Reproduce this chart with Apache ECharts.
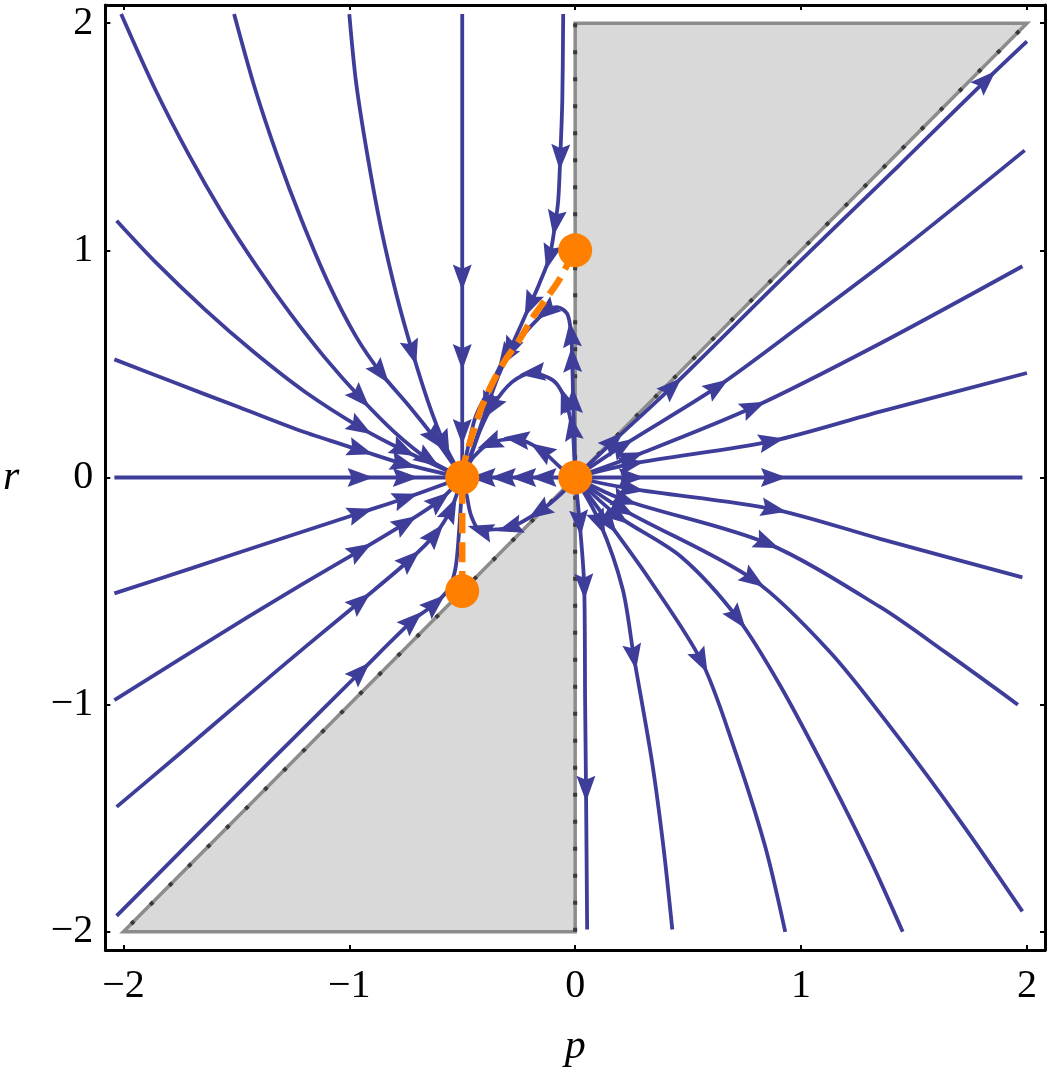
<!DOCTYPE html>
<html>
<head>
<meta charset="utf-8">
<title>Stream plot p-r</title>
<script src="https://cdn.jsdelivr.net/npm/echarts@6/dist/echarts.min.js"></script>
<style>
  html, body { margin: 0; padding: 0; background: #fff; }
  #chart { width: 1050px; height: 1075px; }
</style>
</head>
<body>
<div id="chart"></div>
<script>
  // tick labels
  const tickValues = [-2, -1, 0, 1, 2];

  // fixed points (orange dots)
  const fixedPoints = [[-0.5, 0], [0, 0], [0, 1], [-0.5, -0.5]];

  // orange dashed curve joining the fixed points
  const separatrix = [
    [-0.5, -0.5], [-0.5, 0], [-0.466, 0.154], [-0.418, 0.299], [-0.365, 0.418], [-0.308, 0.519],
    [-0.246, 0.607], [-0.189, 0.703], [-0.132, 0.782], [-0.079, 0.857], [-0.035, 0.936], [0, 1],
  ];

  // shaded (excluded) regions
  const upperShade = [[0, 0], [0, 2], [2, 2]];
  const lowerShade = [[-2, -2], [0, -2], [0, 0]];
  const upperEdge = [[0, 2], [0, 0], [2, 2]];
  const lowerEdge = [[0, -2], [0, 0], [-2, -2]];

  // streamlines flowing into (-0.5, 0)
  const lineA = [[-2.01, 2.04], [-1.86, 1.71], [-1.71, 1.42], [-1.56, 1.16], [-1.41, 0.93], [-1.26, 0.72], [-1.11, 0.53], [-0.95, 0.35], [-0.8, 0.2], [-0.65, 0.08], [-0.5, 0]];
  const lineB = [[-1.51, 2.04], [-1.42, 1.72], [-1.32, 1.42], [-1.21, 1.13], [-1.09, 0.85], [-0.97, 0.62], [-0.86, 0.46], [-0.74, 0.32], [-0.62, 0.17], [-0.5, 0]];
  const lineC = [[-1.0, 2.04], [-0.97, 1.74], [-0.92, 1.42], [-0.86, 1.1], [-0.79, 0.8], [-0.72, 0.55], [-0.65, 0.33], [-0.58, 0.15], [-0.5, 0]];
  const lineD = [[-0.5, 2.04], [-0.5, 0.88], [-0.5, 0.53], [-0.5, 0.2], [-0.5, 0]];
  const lineE = [[-2.03, 1.13], [-1.86, 0.95], [-1.64, 0.74], [-1.42, 0.55], [-1.2, 0.38], [-0.95, 0.22], [-0.76, 0.12], [-0.5, 0]];
  const lineF = [[-2.04, 0.52], [-1.78, 0.42], [-1.49, 0.31], [-1.2, 0.2], [-0.95, 0.12], [-0.76, 0.06], [-0.5, 0]];
  const lineG = [[-2.04, 0], [-0.95, 0], [-0.75, 0], [-0.5, 0]];
  const lineH = [[-2.04, -0.51], [-1.7, -0.4], [-1.35, -0.285], [-0.95, -0.155], [-0.75, -0.09], [-0.5, 0]];
  const lineI = [[-2.04, -0.98], [-1.75, -0.8], [-1.45, -0.615], [-1.2, -0.465], [-0.95, -0.32], [-0.75, -0.2], [-0.6, -0.1], [-0.5, 0]];
  const lineJ = [[-2.03, -1.45], [-1.75, -1.215], [-1.45, -0.96], [-1.2, -0.75], [-0.95, -0.545], [-0.73, -0.36], [-0.62, -0.25], [-0.55, -0.14], [-0.5, 0]];
  const lineK = [[-2.03, -1.93], [-1.7, -1.6], [-1.35, -1.25], [-0.95, -0.855], [-0.72, -0.63], [-0.62, -0.555], [-0.56, -0.49], [-0.53, -0.4], [-0.515, -0.25], [-0.505, -0.1], [-0.5, 0]];
  const lineTop = [[-0.053, 2.04], [-0.057, 1.66], [-0.066, 1.41], [-0.075, 1.22], [-0.088, 1.12], [-0.114, 0.97], [-0.16, 0.85], [-0.2, 0.76], [-0.24, 0.67], [-0.29, 0.56], [-0.343, 0.44], [-0.387, 0.32], [-0.431, 0.19], [-0.466, 0.09], [-0.5, 0]];

  // loops from (0, 0) to (-0.5, 0)
  const loopLow = [[0, 0], [-0.06, -0.07], [-0.16, -0.15], [-0.29, -0.22], [-0.42, -0.23], [-0.46, -0.17], [-0.48, -0.08], [-0.5, 0]];
  const midLine = [[0, 0], [-0.14, 0], [-0.23, 0], [-0.32, 0], [-0.41, 0], [-0.5, 0]];
  const loopUp1 = [[0, 0], [-0.06, 0.04], [-0.15, 0.12], [-0.26, 0.17], [-0.38, 0.15], [-0.45, 0.09], [-0.48, 0.04], [-0.5, 0]];
  const loopUp2 = [[0, 0], [-0.004, 0.1], [-0.013, 0.22], [-0.044, 0.34], [-0.08, 0.41], [-0.12, 0.44], [-0.19, 0.46], [-0.28, 0.42], [-0.37, 0.31], [-0.42, 0.21], [-0.46, 0.1], [-0.5, 0]];
  const loopUp3 = [[0, 0], [-0.004, 0.17], [-0.009, 0.34], [-0.013, 0.52], [-0.018, 0.63], [-0.035, 0.72], [-0.08, 0.75], [-0.13, 0.73], [-0.22, 0.64], [-0.31, 0.53], [-0.38, 0.39], [-0.44, 0.27], [-0.475, 0.13], [-0.5, 0]];

  // streamlines leaving (0, 0)
  const lineP1 = [[0, 0], [0.17, 0.16], [0.43, 0.4], [0.91, 0.87], [1.44, 1.38], [1.82, 1.75], [2.0, 1.92]];
  const lineP2 = [[0, 0], [0.21, 0.14], [0.63, 0.4], [1.0, 0.67], [1.44, 1.0], [1.99, 1.44]];
  const lineP3 = [[0, 0], [0.25, 0.09], [0.79, 0.31], [1.35, 0.59], [1.98, 0.93]];
  const lineP4 = [[0, 0], [0.25, 0.06], [0.87, 0.16], [1.35, 0.29], [2.0, 0.46]];
  const lineP5 = [[0, 0], [0.25, 0], [0.88, 0], [1.98, 0]];
  const lineQ1 = [[0, 0], [0.25, -0.05], [0.88, -0.14], [1.35, -0.27], [1.98, -0.44]];
  const lineQ2 = [[0, 0], [0.22, -0.1], [0.85, -0.29], [1.35, -0.57], [1.64, -0.77], [1.96, -1.0]];
  const lineQ3 = [[0, 0], [0.21, -0.14], [0.79, -0.45], [1.13, -0.77], [1.42, -1.13], [1.71, -1.52], [1.98, -1.91]];
  const lineQ4 = [[0, 0], [0.19, -0.17], [0.47, -0.35], [0.72, -0.62], [0.91, -0.92], [1.13, -1.33], [1.31, -1.69], [1.45, -2.0]];
  const lineQ5 = [[0, 0], [0.15, -0.2], [0.33, -0.45], [0.56, -0.81], [0.7, -1.18], [0.84, -1.62], [0.93, -2.0]];
  const lineQ6 = [[0, 0], [0.11, -0.2], [0.21, -0.49], [0.26, -0.79], [0.34, -1.25], [0.39, -1.62], [0.43, -1.99]];
  const lineQ7 = [[0, 0], [0.02, -0.2], [0.04, -0.48], [0.044, -0.98], [0.048, -1.37], [0.053, -1.99]];

  // [points, indexes carrying an arrowhead]
  const streamLines = [
    [lineA, [7, 9]], [lineB, [6, 8]], [lineC, [5, 7]], [lineD, [1, 2, 3]],
    [lineE, [5, 6]], [lineF, [4, 5]], [lineG, [1, 2]], [lineH, [3, 4]],
    [lineI, [4, 5, 6]], [lineJ, [4, 5, 6, 7]], [lineK, [3, 4, 5]], [lineTop, [2, 4, 5, 7, 9, 11]],
    [loopLow, [2, 3, 4]], [midLine, [1, 2, 3, 4]], [loopUp1, [2, 3, 4]],
    [loopUp2, [2, 3, 6, 8]], [loopUp3, [2, 3, 4, 7, 9]],
    [lineP1, [1, 2, 5]], [lineP2, [1, 2]], [lineP3, [1, 2]], [lineP4, [1, 2]], [lineP5, [1, 2]],
    [lineQ1, [1, 2]], [lineQ2, [1, 2]], [lineQ3, [1, 2]], [lineQ4, [1, 3]],
    [lineQ5, [1, 3]], [lineQ6, [1, 3]], [lineQ7, [1, 2, 4]],
  ];

  const BLUE = '#3e3e9a';
  const ORANGE = '#ff8000';
  const FONT = 'Liberation Serif';
  // arrowhead with a shallow notch, pointing up before rotation
  const ARROW = 'path://M8,0L16,22L8,18.5L0,22Z';

  const chart = echarts.init(document.getElementById('chart'));

  // arrowheads: rotated along the local direction of each streamline
  const arrowData = [];
  streamLines.forEach(([pts, idx]) => {
    idx.forEach((i) => {
      const a = pts[Math.max(i - 1, 0)];
      const b = pts[Math.min(i + 1, pts.length - 1)];
      const ang = (Math.atan2(b[1] - a[1], b[0] - a[0]) * 180) / Math.PI;
      arrowData.push({ value: pts[i], symbolRotate: ang - 90 });
    });
  });

  const shadeSeries = (verts, edge) => ({
    type: 'custom',
    data: verts,
    silent: true,
    z: 1,
    renderItem: (params, api) => {
      if (params.dataIndex !== 0) return null;
      return {
        type: 'group',
        children: [
          {
            type: 'polygon',
            shape: { points: verts.map((v) => api.coord(v)) },
            style: { fill: '#d9d9d9', stroke: '#8c8c8c', lineWidth: 3.5 },
          },
          {
            type: 'polyline',
            shape: { points: edge.map((v) => api.coord(v)) },
            style: { fill: null, stroke: '#3a3a3a', lineWidth: 4, lineDash: [4, 23] },
          },
        ],
      };
    },
  });

  const fmt = (v) => String(v).replace('-', '\u2212');

  const axisBase = {
    type: 'value',
    min: -2.08,
    max: 2.08,
    splitLine: { show: false },
    axisLine: { show: true, onZero: false, lineStyle: { color: '#000', width: 3 } },
    axisTick: { show: true, inside: true, length: 5, customValues: tickValues, lineStyle: { color: '#000', width: 2 } },
  };
  const labelStyle = { customValues: tickValues, formatter: fmt, fontFamily: FONT, fontSize: 40, color: '#000' };
  const nameStyle = { fontFamily: FONT, fontStyle: 'italic', fontSize: 42, color: '#000' };

  const option = {
    animation: false,
    backgroundColor: '#fff',
    grid: { left: 100, right: 5, top: 5, bottom: 125, containLabel: false },
    xAxis: [
      { ...axisBase, position: 'bottom', axisLabel: { ...labelStyle, margin: 16 }, name: 'p', nameLocation: 'middle', nameGap: 76, nameTextStyle: nameStyle },
      { ...axisBase, position: 'top', axisLabel: { show: false } },
    ],
    yAxis: [
      { ...axisBase, position: 'left', axisLabel: { ...labelStyle, margin: 12 }, name: 'r', nameLocation: 'middle', nameRotate: 0, nameGap: 86, nameTextStyle: nameStyle },
      { ...axisBase, position: 'right', axisLabel: { show: false } },
    ],
    series: [
      shadeSeries(upperShade, upperEdge),
      shadeSeries(lowerShade, lowerEdge),
      ...streamLines.map(([pts]) => ({
        type: 'line',
        data: pts,
        smooth: 0.3,
        symbol: 'none',
        silent: true,
        z: 3,
        lineStyle: { color: BLUE, width: 3.8 },
      })),
      {
        type: 'scatter',
        data: arrowData,
        symbol: ARROW,
        symbolSize: [19, 26],
        silent: true,
        z: 4,
        itemStyle: { color: BLUE, opacity: 1 },
      },
      {
        type: 'line',
        data: separatrix,
        smooth: 0.3,
        symbol: 'none',
        silent: true,
        z: 5,
        lineStyle: { color: ORANGE, width: 6.5, type: [20, 9] },
      },
      {
        type: 'scatter',
        data: fixedPoints,
        symbol: 'circle',
        symbolSize: 34,
        silent: true,
        z: 6,
        itemStyle: { color: ORANGE, opacity: 1 },
      },
    ],
  };

  chart.setOption(option);
</script>
</body>
</html>
